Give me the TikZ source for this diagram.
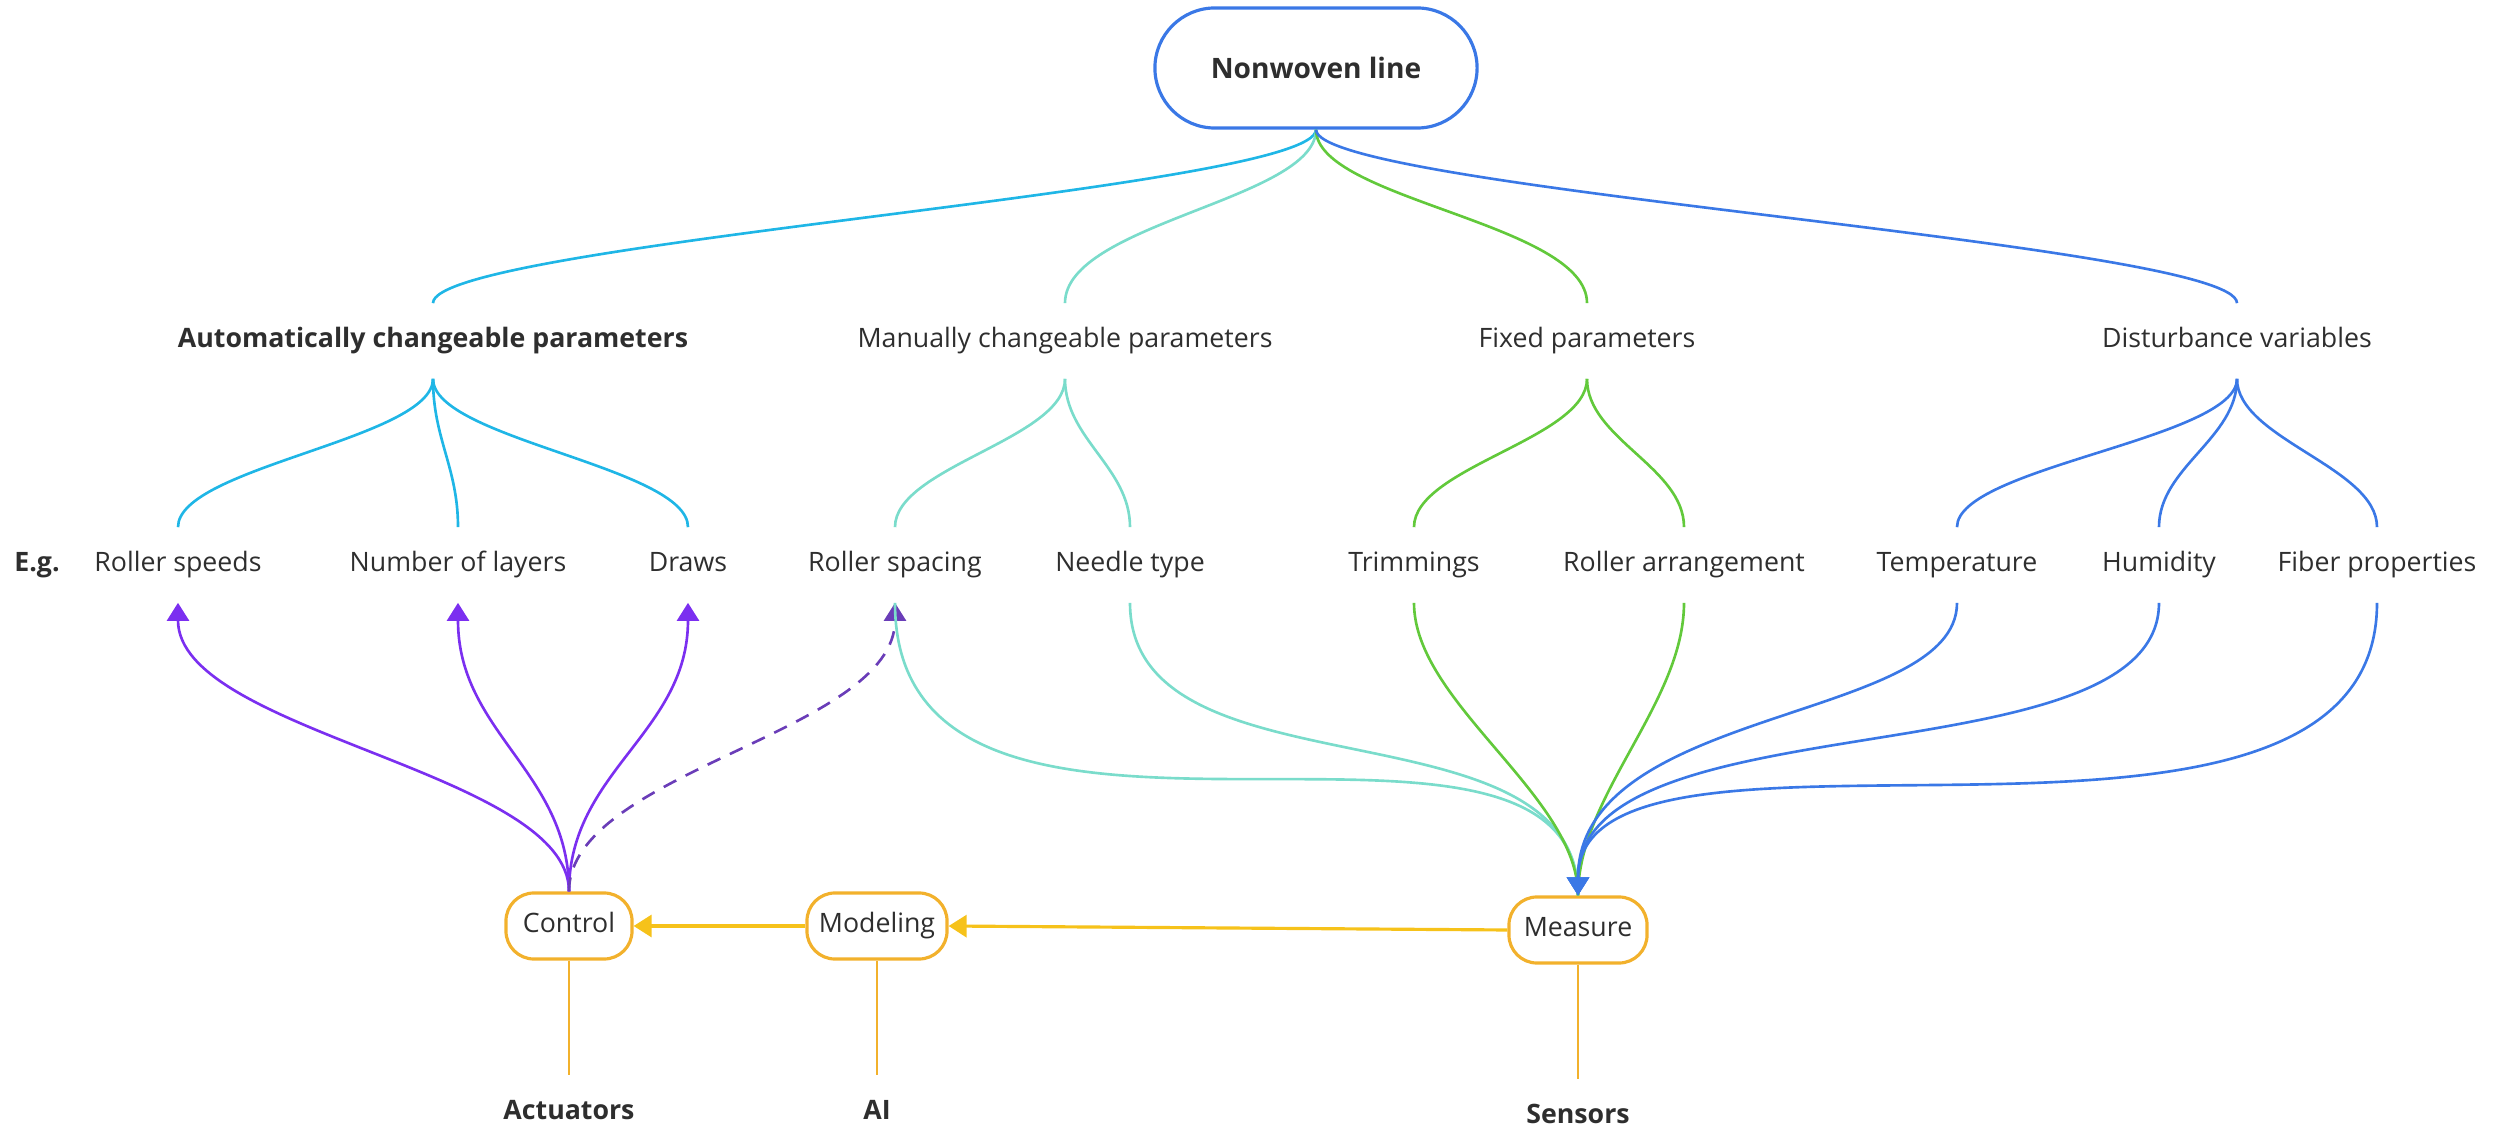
\documentclass[tikz,border=0pt]{standalone}
\usepackage{fontspec}
\setmainfont{Open Sans}
\usetikzlibrary{arrows.meta}

\definecolor{autocol}{HTML}{1FB6E6}
\definecolor{manualcol}{HTML}{7ADCCB}
\definecolor{fixedcol}{HTML}{62C93B}
\definecolor{distcol}{HTML}{3A78E6}
\definecolor{ctrlcol}{HTML}{7B2FF0}
\definecolor{dashcol}{HTML}{6A3DB8}
\definecolor{boxcol}{HTML}{F2B12C}
\definecolor{flowcol}{HTML}{F6C21A}
\definecolor{txtcol}{HTML}{2E2E2E}

\begin{document}
\begin{tikzpicture}[x=0.01cm, y=-0.01cm, line width=0.75pt,
    param/.style={font=\fontsize{7.6}{9}\selectfont, text=txtcol, inner xsep=2pt, inner ysep=0.25cm, text height=1.8mm, text depth=0.5mm},
    parambold/.style={param, font=\fontsize{7.6}{9}\selectfont\bfseries},
    loopbox/.style={param, draw=boxcol, line width=0.9pt, rounded corners=0.28cm, minimum height=0.66cm, inner ysep=0pt},
    tip/.style={-{Triangle[length=1.8mm,width=2.2mm]}}]
    \useasboundingbox (0,0) rectangle (2496,1131);

    % Root
    \node[draw=distcol, line width=0.9pt, rounded corners=0.6cm, minimum width=3.22cm, minimum height=1.2cm,
          font=\fontsize{8}{10}\selectfont\bfseries, text=txtcol] (line) at (1316,68) {Nonwoven line};

    % Parameter groups
    \node[parambold] (auto)   at (433,341)  {Automatically changeable parameters};
    \node[param]     (manual) at (1065,341) {Manually changeable parameters};
    \node[param]     (fixed)  at (1587,341) {Fixed parameters};
    \node[param]     (dist)   at (2237,341) {Disturbance variables};

    % Examples
    \node[parambold] (eg)     at (37,565)   {E.g.};
    \node[param] (speeds)     at (178,565)  {Roller speeds};
    \node[param] (layers)     at (458,565)  {Number of layers};
    \node[param] (draws)      at (688,565)  {Draws};
    \node[param] (spacing)    at (895,565)  {Roller spacing};
    \node[param] (needle)     at (1130,565) {Needle type};
    \node[param] (trim)       at (1414,565) {Trimmings};
    \node[param] (arrange)    at (1684,565) {Roller arrangement};
    \node[param] (temp)       at (1957,565) {Temperature};
    \node[param] (humid)      at (2159,565) {Humidity};
    \node[param] (fiber)      at (2377,565) {Fiber properties};

    % Loop
    \node[loopbox, minimum width=1.26cm] (control)  at (569,926) {Control};
    \node[loopbox, minimum width=1.40cm] (modeling) at (877,926) {Modeling};
    \node[loopbox, minimum width=1.38cm] (measure)  at (1578,930) {Measure};
    \node[parambold] (actuators) at (569,1113)  {Actuators};
    \node[parambold] (ai)        at (877,1113)  {AI};
    \node[parambold] (sensors)   at (1578,1117) {Sensors};

    % Root to groups
    \draw[autocol]   (line.south) .. controls +(0,60) and +(0,-60) .. (auto.north);
    \draw[manualcol] (line.south) .. controls +(0,70) and +(0,-80) .. (manual.north);
    \draw[fixedcol]  (line.south) .. controls +(0,70) and +(0,-80) .. (fixed.north);
    \draw[distcol]   (line.south) .. controls +(0,60) and +(0,-60) .. (dist.north);

    % Groups to examples
    \foreach \leaf in {speeds, layers, draws}
        \draw[autocol] (auto.south) .. controls +(0,60) and +(0,-60) .. (\leaf.north);
    \foreach \leaf in {spacing, needle}
        \draw[manualcol] (manual.south) .. controls +(0,60) and +(0,-60) .. (\leaf.north);
    \foreach \leaf in {trim, arrange}
        \draw[fixedcol] (fixed.south) .. controls +(0,60) and +(0,-60) .. (\leaf.north);
    \foreach \leaf in {temp, humid, fiber}
        \draw[distcol] (dist.south) .. controls +(0,60) and +(0,-60) .. (\leaf.north);

    % Control acts on
    \foreach \leaf in {speeds, layers, draws}
        \draw[ctrlcol, tip] (control.north) .. controls +(0,-120) and +(0,130) .. (\leaf.south);
    \draw[dashcol, dash pattern=on 4pt off 3pt, tip] (control.north) .. controls +(0,-120) and +(0,130) .. (spacing.south);

    % Measured
    \draw[manualcol] (spacing.south) .. controls +(0,330) and +(0,-250) .. (measure.north);
    \draw[manualcol] (needle.south) .. controls +(0,200) and +(0,-200) .. (measure.north);
    \draw[fixedcol] (trim.south) .. controls +(0,100) and +(0,-100) .. (measure.north);
    \draw[fixedcol] (arrange.south) .. controls +(0,100) and +(0,-100) .. (measure.north);
    \draw[distcol, tip] (temp.south) .. controls +(0,120) and +(0,-190) .. (measure.north);
    \draw[distcol, tip] (humid.south) .. controls +(0,180) and +(0,-200) .. (measure.north);
    \draw[distcol, tip] (fiber.south) .. controls +(0,320) and +(0,-220) .. (measure.north);

    % Information flow
    \draw[flowcol, line width=0.9pt, tip] (measure.west) -- (modeling.east);
    \draw[flowcol, line width=0.9pt, tip] (modeling.west) -- (control.east);
    \draw[boxcol] (control.south) -- (actuators.north);
    \draw[boxcol] (modeling.south) -- (ai.north);
    \draw[boxcol] (measure.south) -- (sensors.north);
\end{tikzpicture}
\end{document}
